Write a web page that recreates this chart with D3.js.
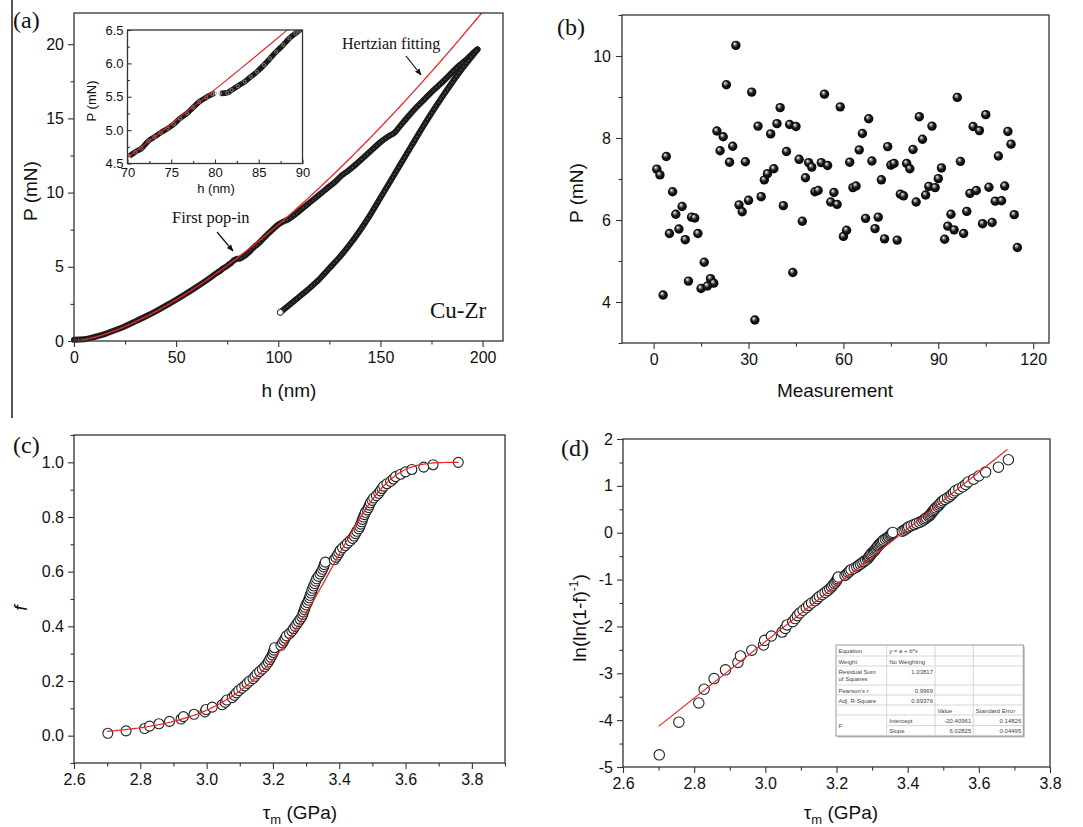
<!DOCTYPE html>
<html>
<head>
<meta charset="utf-8">
<script src="https://cdn.jsdelivr.net/npm/d3@7"></script>
<style>
  body { margin: 0; background: #fff; }
  svg { display: block; }
</style>
</head>
<body>
<svg id="fig" width="1083" height="827"></svg>
<script>
// ---------- data ----------

// (a) load-displacement curve, loading branch
const loadH = [0, 5, 10, 15, 20, 25, 30, 35, 40, 45, 50, 55, 60, 65, 70.2, 70.9, 71.6, 72.4, 73.1, 73.8,
  74.6, 75.3, 76.0, 76.8, 77.5, 78.2, 79.0, 79.7, 80.0, 80.6, 81.4, 81.9, 82.6, 83.4, 84.1, 84.8, 85.6,
  86.3, 87.0, 87.8, 88.5, 89.2, 89.6, 90.5, 93, 96, 100, 103, 105, 108, 112, 116, 120, 124, 128, 131,
  134, 138, 142, 146, 150, 154, 157, 160, 164, 168, 172, 176, 180, 184, 188, 192, 195, 197.5];
const loadP = [0.08, 0.12, 0.27, 0.47, 0.72, 1.0, 1.32, 1.65, 2.0, 2.38, 2.78, 3.2, 3.64, 4.1, 4.61, 4.675,
  4.725, 4.84, 4.9, 4.96, 5.025, 5.09, 5.175, 5.25, 5.34, 5.425, 5.49, 5.54, 5.55, 5.55, 5.56, 5.6, 5.66,
  5.725, 5.8, 5.875, 5.975, 6.075, 6.175, 6.275, 6.375, 6.45, 6.49, 6.6, 6.95, 7.35, 7.85, 8.08, 8.2, 8.5,
  8.95, 9.4, 9.85, 10.3, 10.75, 11.15, 11.45, 11.9, 12.4, 12.9, 13.4, 13.8, 14.05, 14.55, 15.2, 15.8,
  16.35, 16.9, 17.4, 17.95, 18.5, 18.95, 19.35, 19.65];
// unloading branch
const unloadH = [101, 105, 110, 115, 120, 125, 130, 135, 140, 145, 150, 155, 160, 165, 170, 175, 180, 185, 190, 194, 197.5];
const unloadP = [1.93, 2.38, 2.95, 3.52, 4.15, 4.9, 5.65, 6.5, 7.45, 8.5, 9.65, 10.8, 11.95, 13.1, 14.25, 15.35, 16.4, 17.4, 18.35, 19.05, 19.65];
// Hertzian fit  P = k * h^1.5
const hertzK = 0.00784;

// (b) first pop-in load for each measurement, in order
const popinP = [7.24, 7.10, 4.17, 7.55, 5.67, 6.69, 6.14, 5.78, 6.33, 5.52, 4.51, 6.07, 6.05, 5.67, 4.33,
  4.97, 4.39, 4.57, 4.46, 8.17, 7.69, 8.03, 9.30, 7.41, 7.80, 10.26, 6.37, 6.20, 7.42, 6.48, 9.12, 3.56,
  8.29, 6.57, 6.98, 7.13, 8.10, 7.25, 8.35, 8.74, 6.35, 7.67, 8.33, 4.72, 8.28, 7.48, 5.97, 7.03, 7.40,
  7.29, 6.69, 6.72, 7.40, 9.07, 7.33, 6.44, 6.67, 6.38, 8.76, 5.60, 5.75, 7.41, 6.79, 6.83, 7.71, 8.11,
  6.04, 8.47, 7.44, 5.79, 6.07, 6.98, 5.54, 7.79, 7.34, 7.38, 5.51, 6.63, 6.59, 7.38, 7.25, 7.72, 6.44,
  8.52, 7.97, 6.61, 6.82, 8.29, 6.79, 7.01, 7.27, 5.53, 5.85, 6.14, 5.76, 8.99, 7.43, 5.67, 6.21, 6.65,
  8.28, 6.72, 8.18, 5.91, 8.57, 6.80, 5.94, 6.46, 7.56, 6.47, 6.83, 8.16, 7.85, 6.13, 5.33];

// (c),(d) maximum shear stress, ranked (GPa)
const tauM = [2.702, 2.757, 2.813, 2.828, 2.856, 2.888, 2.923, 2.930, 2.962, 2.995, 2.998, 3.017, 3.047,
  3.056, 3.061, 3.077, 3.084, 3.090, 3.097, 3.106, 3.115, 3.122, 3.130, 3.140, 3.146, 3.152, 3.160, 3.168,
  3.175, 3.181, 3.186, 3.190, 3.194, 3.198, 3.201, 3.203, 3.205, 3.224, 3.229, 3.233, 3.237, 3.241, 3.250,
  3.257, 3.262, 3.267, 3.272, 3.277, 3.282, 3.287, 3.290, 3.292, 3.295, 3.297, 3.300, 3.304, 3.307, 3.310,
  3.312, 3.315, 3.317, 3.320, 3.323, 3.326, 3.329, 3.332, 3.337, 3.342, 3.346, 3.350, 3.353, 3.355, 3.358,
  3.385, 3.390, 3.395, 3.399, 3.403, 3.410, 3.418, 3.425, 3.433, 3.440, 3.445, 3.449, 3.453, 3.459, 3.462,
  3.465, 3.468, 3.470, 3.473, 3.476, 3.479, 3.484, 3.488, 3.491, 3.494, 3.499, 3.504, 3.512, 3.519, 3.524,
  3.529, 3.534, 3.544, 3.555, 3.563, 3.570, 3.585, 3.600, 3.619, 3.655, 3.683, 3.759];

// linear fit shown in the table of (d)
const fitIntercept = -20.40961;
const fitSlope = 6.02825;
const fitTable = [
  ["Equation", "y = a + b*x", "", ""],
  ["Weight", "No Weighting", "", ""],
  ["Residual Sum\nof Squares", "1.03817", "", ""],
  ["Pearson's r", "0.9969", "", ""],
  ["Adj. R-Square", "0.99376", "", ""],
  ["", "", "Value", "Standard Error"],
  ["F", "Intercept", "-20.40961", "0.14826"],
  ["", "Slope", "6.02825", "0.04495"]
];

// ---------- drawing ----------
const sans = "'Liberation Sans', Arial, sans-serif";
const serif = "'Liberation Serif', 'Times New Roman', serif";
const svg = d3.select("#fig");
const defs = svg.append("defs");

const ball = defs.append("radialGradient").attr("id", "ball")
  .attr("cx", 0.5).attr("cy", 0.5).attr("r", 0.55).attr("fx", 0.35).attr("fy", 0.3);
ball.append("stop").attr("offset", "0%").attr("stop-color", "#fff");
ball.append("stop").attr("offset", "22%").attr("stop-color", "#999");
ball.append("stop").attr("offset", "50%").attr("stop-color", "#1a1a1a");
ball.append("stop").attr("offset", "100%").attr("stop-color", "#000");

defs.append("marker").attr("id", "arrow").attr("viewBox", "0 0 10 10")
  .attr("refX", 9).attr("refY", 5).attr("markerWidth", 7).attr("markerHeight", 7)
  .attr("orient", "auto").attr("markerUnits", "userSpaceOnUse")
  .append("path").attr("d", "M0,1 L10,5 L0,9 Z").attr("fill", "#111");

function panel(box, xd, yd) {
  const x = d3.scaleLinear().domain(xd).range([box.l, box.r]);
  const y = d3.scaleLinear().domain(yd).range([box.b, box.t]);
  const g = svg.append("g");
  return { g, x, y, box };
}

function clipFor(p, id) {
  const b = p.box;
  defs.append("clipPath").attr("id", id).append("rect")
    .attr("x", b.l).attr("y", b.t).attr("width", b.r - b.l).attr("height", b.b - b.t);
  return `url(#${id})`;
}

function axes(p, o) {
  const { x, y, box } = p;
  const dir = o.inward ? -1 : 1;
  const maj = o.major || 6, mnr = o.minor || 3.5;
  const fs = o.fontSize || 16;
  const ax = p.g.append("g");
  const xb = ax.append("g").attr("transform", `translate(0,${box.b})`);
  xb.append("g").call(d3.axisBottom(x).tickValues(o.xMinor).tickSize(dir * mnr).tickFormat(""));
  xb.append("g").call(d3.axisBottom(x).tickValues(o.xTicks).tickSize(dir * maj)
    .tickPadding(o.xPad || 5).tickFormat(o.xFmt));
  const yl = ax.append("g").attr("transform", `translate(${box.l},0)`);
  yl.append("g").call(d3.axisLeft(y).tickValues(o.yMinor).tickSize(dir * mnr).tickFormat(""));
  yl.append("g").call(d3.axisLeft(y).tickValues(o.yTicks).tickSize(dir * maj)
    .tickPadding(o.yPad || 4).tickFormat(o.yFmt));
  ax.selectAll(".domain").remove();
  ax.selectAll(".tick line").attr("stroke", "#333").attr("stroke-width", 1.1);
  ax.selectAll(".tick text").attr("font-size", fs).attr("font-family", sans).attr("fill", "#111");
  p.g.append("rect").attr("x", box.l).attr("y", box.t)
    .attr("width", box.r - box.l).attr("height", box.b - box.t)
    .attr("fill", "none").attr("stroke", "#333").attr("stroke-width", 1.3);
}

function label(g, txt, x, y, o = {}) {
  const t = g.append("text").attr("x", x).attr("y", y)
    .attr("font-family", o.family || sans).attr("font-size", o.size || 19)
    .attr("fill", "#111").attr("text-anchor", o.anchor || "middle");
  if (o.rotate) t.attr("transform", `rotate(-90,${x},${y})`);
  if (o.italic) t.attr("font-style", "italic");
  t.text(txt);
  return t;
}

function tauLabel(g, x, y) {
  const t = g.append("text").attr("x", x).attr("y", y).attr("text-anchor", "middle")
    .attr("font-family", sans).attr("font-size", 19).attr("fill", "#111");
  t.append("tspan").text("τ");
  t.append("tspan").attr("font-size", 13).attr("dy", 5).text("m");
  t.append("tspan").attr("dy", -5).text(" (GPa)");
}

const fmt = d => String(d);
const fmt1 = d => d.toFixed(1);

// stray frame rule at the far left
svg.append("line").attr("x1", 12).attr("x2", 12).attr("y1", 0).attr("y2", 418)
  .attr("stroke", "#111").attr("stroke-width", 1.4);

// ===== (a) =====
const pa = panel({ l: 74, r: 503, t: 13, b: 341 }, [0, 210], [0, 22.1]);
const clipA = clipFor(pa, "clipA");
const loadPts = loadH.map((h, i) => [h, loadP[i]]);
const unloadPts = unloadH.map((h, i) => [h, unloadP[i]]);
const lineA = d3.line().x(d => pa.x(d[0])).y(d => pa.y(d[1])).curve(d3.curveMonotoneX);

[loadPts, unloadPts].forEach(pts => {
  pa.g.append("path").attr("d", lineA(pts)).attr("fill", "none")
    .attr("stroke", "#1b1b1b").attr("stroke-width", 6).attr("stroke-linecap", "round");
  pa.g.append("path").attr("d", lineA(pts)).attr("fill", "none")
    .attr("stroke", "#707070").attr("stroke-width", 1).attr("stroke-dasharray", "1.5 2.5");
});
pa.g.append("circle").attr("cx", pa.x(unloadH[0])).attr("cy", pa.y(unloadP[0])).attr("r", 3)
  .attr("fill", "#fff").attr("stroke", "#222").attr("stroke-width", 1);

const hertz = d3.range(0, 201, 1).map(h => [h, hertzK * Math.pow(h, 1.5)]);
pa.g.append("path").attr("d", d3.line().x(d => pa.x(d[0])).y(d => pa.y(d[1]))(hertz))
  .attr("clip-path", clipA).attr("fill", "none").attr("stroke", "#ee2222").attr("stroke-width", 1.3);

axes(pa, {
  xTicks: [0, 50, 100, 150, 200], xMinor: [25, 75, 125, 175], xFmt: fmt,
  yTicks: [0, 5, 10, 15, 20], yMinor: [2.5, 7.5, 12.5, 17.5], yFmt: fmt
});
label(pa.g, "h (nm)", 289, 397);
label(pa.g, "P (mN)", 37, 191, { rotate: true });
label(pa.g, "(a)", 13, 28, { family: serif, size: 24, anchor: "start" });
label(pa.g, "Hertzian fitting", 342, 49, { family: serif, size: 16, anchor: "start" });
label(pa.g, "First pop-in", 172, 223, { family: serif, size: 16.5, anchor: "start" });
label(pa.g, "Cu-Zr", 430, 318, { family: serif, size: 23, anchor: "start" });
pa.g.append("line").attr("x1", 406).attr("y1", 56).attr("x2", 421).attr("y2", 75)
  .attr("stroke", "#111").attr("stroke-width", 1.2).attr("marker-end", "url(#arrow)");
pa.g.append("line").attr("x1", 217).attr("y1", 232).attr("x2", 233).attr("y2", 251)
  .attr("stroke", "#111").attr("stroke-width", 1.2).attr("marker-end", "url(#arrow)");

// inset
const pi = panel({ l: 127.5, r: 302.5, t: 30, b: 163.5 }, [70, 90], [4.5, 6.5]);
pi.g.append("rect").attr("x", 127.5).attr("y", 30).attr("width", 175).attr("height", 133.5).attr("fill", "#fff");
const clipI = clipFor(pi, "clipI");
const inLoad = loadPts.filter(d => d[0] >= 68 && d[0] <= 92);
const lineI = d3.line().x(d => pi.x(d[0])).y(d => pi.y(d[1])).curve(d3.curveMonotoneX);
const gi = pi.g.append("g").attr("clip-path", clipI);
gi.append("path").attr("d", lineI(inLoad.filter(d => d[0] <= 80)))
  .attr("fill", "none").attr("stroke", "#1b1b1b").attr("stroke-width", 5.5);
gi.append("path").attr("d", lineI(inLoad.filter(d => d[0] >= 80.6)))
  .attr("fill", "none").attr("stroke", "#1b1b1b").attr("stroke-width", 5.5);
gi.selectAll("circle").data(inLoad).join("circle")
  .attr("cx", d => pi.x(d[0])).attr("cy", d => pi.y(d[1])).attr("r", 1.6)
  .attr("fill", "none").attr("stroke", "#9a9a9a").attr("stroke-width", 0.8);
gi.append("path").attr("d", d3.line().x(d => pi.x(d[0])).y(d => pi.y(d[1]))(hertz.filter(d => d[0] >= 69 && d[0] <= 91)))
  .attr("fill", "none").attr("stroke", "#ee2222").attr("stroke-width", 1.1);
axes(pi, {
  inward: true, major: 4, minor: 2.5, fontSize: 13, xPad: 4, yPad: 4,
  xTicks: [70, 75, 80, 85, 90], xMinor: [72.5, 77.5, 82.5, 87.5], xFmt: fmt,
  yTicks: [4.5, 5, 5.5, 6, 6.5], yMinor: [4.75, 5.25, 5.75, 6.25], yFmt: fmt1
});
label(pi.g, "h (nm)", 216, 193, { size: 13 });
label(pi.g, "P (mN)", 96, 101, { size: 13, rotate: true });

// ===== (b) =====
const pb = panel({ l: 622, r: 1049, t: 15, b: 343 }, [-10, 125], [3, 11]);
axes(pb, {
  xTicks: [0, 30, 60, 90, 120], xMinor: [15, 45, 75, 105], xFmt: fmt,
  yTicks: [4, 6, 8, 10], yMinor: [3, 5, 7, 9, 11], yFmt: fmt, yPad: 5
});
pb.g.append("g").selectAll("circle").data(popinP).join("circle")
  .attr("cx", (d, i) => pb.x(i + 1)).attr("cy", d => pb.y(d)).attr("r", 4.7)
  .attr("fill", "url(#ball)");
label(pb.g, "Measurement", 835, 397);
label(pb.g, "P (mN)", 583, 193, { rotate: true });
label(pb.g, "(b)", 557, 35, { family: serif, size: 24, anchor: "start" });

// ===== (c) =====
const N = tauM.length;
const ranked = tauM.map((t, i) => ({ tau: t, f: (i + 1) / N }));
const pc = panel({ l: 74, r: 505, t: 435, b: 763 }, [2.6, 3.9], [-0.1, 1.1]);
axes(pc, {
  xTicks: [2.6, 2.8, 3.0, 3.2, 3.4, 3.6, 3.8], xMinor: [2.7, 2.9, 3.1, 3.3, 3.5, 3.7, 3.9], xFmt: fmt1,
  yTicks: [0, 0.2, 0.4, 0.6, 0.8, 1.0], yMinor: [-0.1, 0.1, 0.3, 0.5, 0.7, 0.9, 1.1], yFmt: fmt1
});
const weib = d3.range(2.70, 3.7605, 0.005).map(t => [t, 1 - Math.exp(-Math.exp(fitIntercept + fitSlope * t))]);
pc.g.append("g").selectAll("circle").data(ranked).join("circle")
  .attr("cx", d => pc.x(d.tau)).attr("cy", d => pc.y(d.f)).attr("r", 5)
  .attr("fill", "#fff").attr("stroke", "#222").attr("stroke-width", 1.1);
pc.g.append("path").attr("d", d3.line().x(d => pc.x(d[0])).y(d => pc.y(d[1]))(weib))
  .attr("fill", "none").attr("stroke", "#ee2222").attr("stroke-width", 1.2);
tauLabel(pc.g, 300, 819);
label(pc.g, "f", 27, 608, { rotate: true, italic: true });
label(pc.g, "(c)", 13, 453, { family: serif, size: 24, anchor: "start" });

// ===== (d) =====
const pd = panel({ l: 623, r: 1050, t: 439, b: 767 }, [2.6, 3.8], [-5, 2]);
axes(pd, {
  xTicks: [2.6, 2.8, 3.0, 3.2, 3.4, 3.6, 3.8], xMinor: [2.7, 2.9, 3.1, 3.3, 3.5, 3.7], xFmt: fmt1,
  yTicks: [-5, -4, -3, -2, -1, 0, 1, 2], yMinor: [-4.5, -3.5, -2.5, -1.5, -0.5, 0.5, 1.5], yFmt: fmt
});
const linPts = ranked.filter(d => d.f < 1).map(d => ({ tau: d.tau, v: Math.log(-Math.log(1 - d.f)) }));
pd.g.append("g").selectAll("circle").data(linPts).join("circle")
  .attr("cx", d => pd.x(d.tau)).attr("cy", d => pd.y(d.v)).attr("r", 5.2)
  .attr("fill", "#fff").attr("stroke", "#222").attr("stroke-width", 1.1);
const fitEnds = [2.70, 3.68];
pd.g.append("line")
  .attr("x1", pd.x(fitEnds[0])).attr("y1", pd.y(fitIntercept + fitSlope * fitEnds[0]))
  .attr("x2", pd.x(fitEnds[1])).attr("y2", pd.y(fitIntercept + fitSlope * fitEnds[1]))
  .attr("stroke", "#ee2222").attr("stroke-width", 1.2);
tauLabel(pd.g, 841, 819);
const ll = pd.g.append("text").attr("transform", "translate(586,618) rotate(-90)")
  .attr("text-anchor", "middle").attr("font-family", sans).attr("font-size", 19).attr("fill", "#111");
ll.append("tspan").text("ln(ln(1-f)");
ll.append("tspan").attr("font-size", 12).attr("dy", -8).text("-1");
ll.append("tspan").attr("dy", 8).text(")");
label(pd.g, "(d)", 561, 456, { family: serif, size: 24, anchor: "start" });

// fit table
const colX = [836, 886.7, 935, 973.3, 1023.3];
const rowY = [645, 656, 666, 685, 695, 705, 715, 725.5, 736];
const tb = pd.g.append("g");
tb.append("rect").attr("x", colX[0] + 1.5).attr("y", rowY[0] + 1.5)
  .attr("width", colX[4] - colX[0]).attr("height", rowY[8] - rowY[0]).attr("fill", "#bbb");
tb.append("rect").attr("x", colX[0]).attr("y", rowY[0])
  .attr("width", colX[4] - colX[0]).attr("height", rowY[8] - rowY[0])
  .attr("fill", "#fff").attr("stroke", "#999").attr("stroke-width", 1);
rowY.slice(1, 8).forEach((yy, i) => {
  tb.append("line").attr("x1", i === 6 ? colX[1] : colX[0]).attr("x2", colX[4])
    .attr("y1", yy).attr("y2", yy).attr("stroke", "#ccc").attr("stroke-width", 0.8);
});
colX.slice(1, 4).forEach(xx => {
  tb.append("line").attr("x1", xx).attr("x2", xx).attr("y1", rowY[0]).attr("y2", rowY[8])
    .attr("stroke", "#ccc").attr("stroke-width", 0.8);
});
fitTable.forEach((row, r) => {
  row.forEach((cell, c) => {
    if (!cell) return;
    const numeric = /^-?[0-9.]+$/.test(cell);
    const lines = cell.split("\n");
    let yy = rowY[r] + 7.5;
    if (r === 6 && c === 0) yy = rowY[6] + 13;
    const t = tb.append("text")
      .attr("x", numeric ? colX[c + 1] - 2 : colX[c] + 2.5).attr("y", yy)
      .attr("text-anchor", numeric ? "end" : "start")
      .attr("font-family", sans).attr("font-size", 6).attr("fill", "#444");
    lines.forEach((ln, k) => t.append("tspan").attr("x", numeric ? colX[c + 1] - 2 : colX[c] + 2.5)
      .attr("dy", k ? 7 : 0).text(ln));
  });
});
</script>
</body>
</html>
